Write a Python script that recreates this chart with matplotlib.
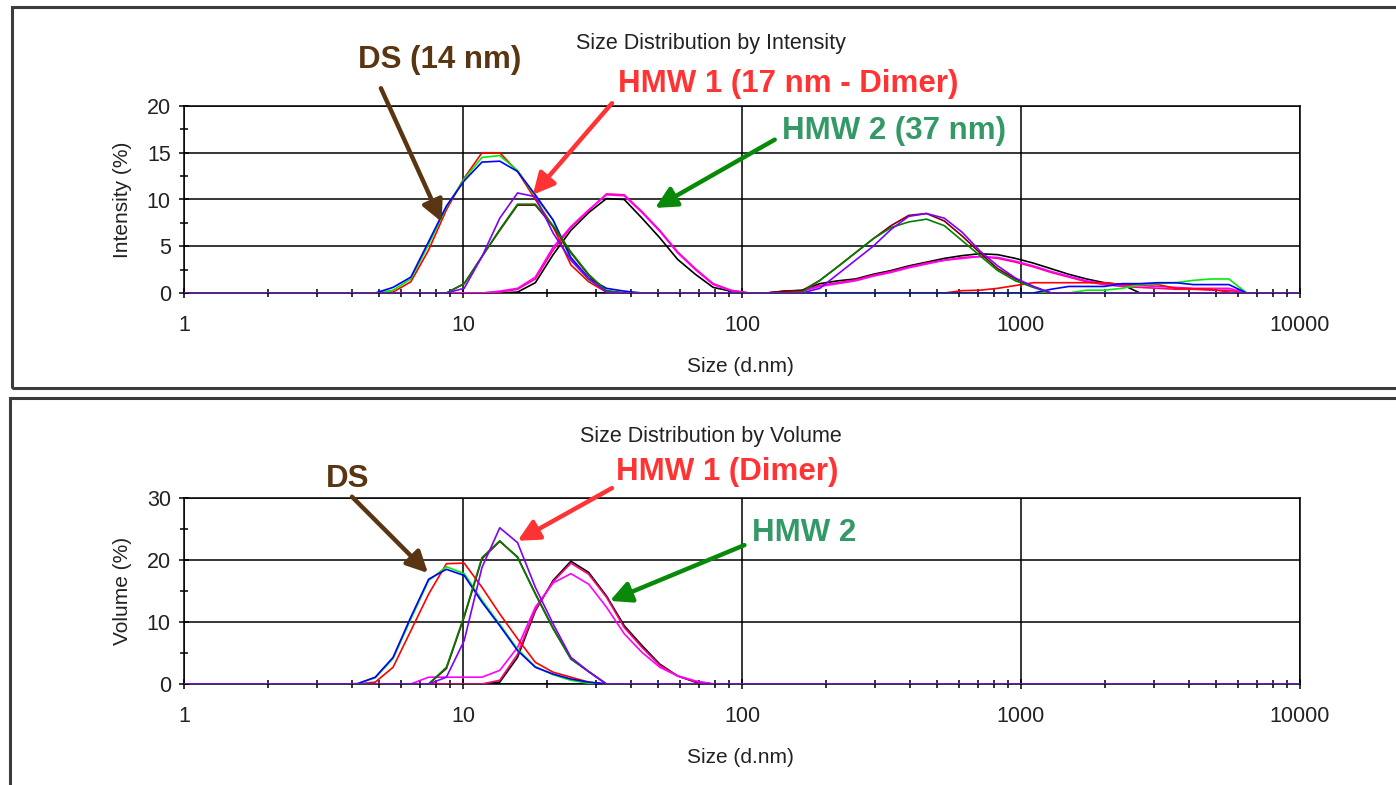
import numpy as np
import matplotlib
matplotlib.use("Agg")
import matplotlib.pyplot as plt
from matplotlib.patches import Rectangle
from matplotlib.ticker import LogLocator, MultipleLocator, NullFormatter, FixedLocator

plt.rcParams['font.family'] = ['Liberation Sans', 'DejaVu Sans']

# Zetasizer size classes (d.nm), 70 log-spaced bins
sizes = np.logspace(np.log10(0.4), 4, 70)

def curve(*segments):
    # segments: (first bin index)
    y = np.zeros(len(sizes))
    for start, vals in segments:
        y[start:start + len(vals)] = vals
    return y

# ---- Size distribution by intensity (%) ----
int_red = curve((18, [0.1, 1.2, 4.6, 8.9, 12.3, 15.0, 15.0, 13.0, 10.0, 7.1, 3.0, 1.2, 0.1]),
                (50, [0.25, 0.3, 0.5, 0.8, 1.1, 1.1, 1.1, 1.1, 1.1, 0.9, 0.9, 0.9, 0.5, 0.45, 0.4, 0.1]))
int_green = curve((18, [0.3, 1.5, 5.2, 9.2, 12.2, 14.5, 14.7, 13.1, 10.3, 7.8, 3.6, 1.4, 0.3]),
                  (57, [0.3, 0.3, 0.5, 0.9, 1.0, 1.1, 1.35, 1.5, 1.5]))
int_blue = curve((18, [0.6, 1.7, 5.5, 9.3, 12.0, 14.0, 14.1, 13.0, 10.5, 7.8, 3.8, 1.6, 0.5, 0.2]),
                 (55, [0.4, 0.7, 0.7, 0.7, 1.0, 1.0, 1.1, 1.1, 0.9, 0.9, 0.9]))
int_darkred = curve((22, [1.0, 3.9, 6.7, 9.4, 9.4, 7.1, 4.3, 1.9, 0.2]),
                    (40, [0.2, 0.25, 1.35, 2.8, 4.3, 5.8, 7.2, 8.3, 8.5, 7.7, 6.1, 4.3, 2.6, 1.5, 0.7]))
int_darkgreen = curve((22, [1.0, 3.9, 6.8, 9.5, 9.5, 7.2, 4.4, 2.0, 0.2]),
                      (41, [0.1, 1.35, 2.8, 4.3, 5.8, 7.0, 7.6, 7.9, 7.2, 5.6, 4.0, 2.4, 1.3, 0.6]))
int_purple = curve((22, [0.5, 3.9, 8.0, 10.7, 10.3, 6.4, 3.5, 1.5, 0.1]),
                   (42, [0.5, 2.0, 3.5, 5.0, 6.8, 8.2, 8.5, 8.0, 6.5, 4.5, 2.9, 1.6, 0.7]))
int_black = curve((25, [0.1, 1.1, 4.1, 6.7, 8.6, 10.1, 10.0, 8.0, 5.9, 3.6, 2.0, 0.6, 0.2]),
                  (40, [0.2, 0.3, 1.0, 1.3, 1.5, 2.0, 2.4, 2.9, 3.3, 3.7, 4.0, 4.2, 4.1, 3.7,
                        3.2, 2.6, 2.0, 1.5, 1.1, 0.9]))
int_pink = curve((24, [0.1, 0.4, 1.5, 4.6, 7.0, 8.8, 10.6, 10.5, 8.7, 6.7, 4.4, 2.6, 1.0, 0.3]),
                 (40, [0.1, 0.2, 0.8, 1.1, 1.4, 1.9, 2.3, 2.8, 3.2, 3.5, 3.8, 3.9, 3.7, 3.3, 2.8,
                       2.2, 1.7, 1.2, 0.9, 0.7, 0.6, 0.5, 0.4, 0.4, 0.3, 0.3]))
int_magenta = curve((24, [0.2, 0.5, 1.7, 4.9, 7.1, 8.9, 10.5, 10.4, 8.6, 6.6, 4.3, 2.5, 0.9, 0.25]),
                    (40, [0.1, 0.2, 0.7, 1.0, 1.3, 1.8, 2.2, 2.7, 3.1, 3.5, 3.7, 3.9, 3.8, 3.4, 2.9,
                          2.3, 1.8, 1.3, 1.0, 0.8, 0.8, 0.7, 0.6, 0.5, 0.5, 0.5]))

# ---- Size distribution by volume (%) ----
vol_red = curve((17, [0.3, 2.7, 8.6, 14.5, 19.4, 19.5, 15.6, 11.3, 7.3, 3.5, 1.9, 1.1, 0.3]))
vol_green = curve((16, [0.05, 1.0, 4.1, 10.5, 16.7, 18.9, 17.8, 13.5, 9.6, 5.6, 2.8, 1.5, 0.6, 0.1]))
vol_blue = curve((16, [0.05, 1.1, 4.3, 10.8, 16.9, 18.5, 17.5, 13.2, 9.4, 5.4, 2.7, 1.6, 0.8, 0.3]))
vol_darkred = curve((21, [2.5, 10.8, 20.2, 23.0, 20.5, 14.6, 9.0, 4.1, 2.0]))
vol_darkgreen = curve((21, [2.7, 11.0, 20.4, 23.1, 20.4, 14.5, 8.9, 4.0, 2.0]))
vol_purple = curve((21, [1.1, 7.0, 18.8, 25.2, 22.8, 15.6, 9.7, 4.3, 2.0]))
vol_black = curve((24, [0.3, 4.3, 11.8, 16.7, 19.8, 18.0, 14.2, 9.4, 6.2, 3.2, 1.3, 0.3]))
vol_pink = curve((24, [0.6, 4.8, 12.0, 16.5, 19.5, 17.7, 14.0, 9.1, 5.9, 3.0, 1.3, 0.4]))
vol_magenta = curve((20, [1.1, 1.1, 1.1, 1.1, 2.2, 5.9, 12.4, 16.3, 17.8, 16.1, 12.4, 8.1, 5.1,
                          2.7, 1.3, 0.5]))

colors = ['#000000', '#ff0080', '#ff00ff', '#ff0000', '#00ee00', '#0000ff',
          '#800000', '#008000', '#8000ff']
int_series = [int_black, int_pink, int_magenta, int_red, int_green, int_blue,
              int_darkred, int_darkgreen, int_purple]
vol_series = [vol_black, vol_pink, vol_magenta, vol_red, vol_green, vol_blue,
              vol_darkred, vol_darkgreen, vol_purple]

brown = '#5a3511'
red_txt = '#ff3333'
green_txt = '#339966'
green_arrow = '#088a08'

fig = plt.figure(figsize=(13.96, 7.85), dpi=100)

# panel frames
fig.patches.append(Rectangle((12 / 1396, 1 - 388 / 785), 1.0, 381 / 785, transform=fig.transFigure,
                             fill=False, edgecolor='#3c3c3c', linewidth=2.2))
fig.patches.append(Rectangle((10 / 1396, -0.05), 1.0, 0.05 + 1 - 398 / 785, transform=fig.transFigure,
                             fill=False, edgecolor='#3c3c3c', linewidth=2.2))

ax1 = fig.add_axes([184 / 1396, 1 - 293 / 785, 1116 / 1396, 187 / 785])
ax2 = fig.add_axes([184 / 1396, 1 - 684 / 785, 1116 / 1396, 186 / 785])


def style(ax, series_list, ymax, ystep, title, ylabel):
    for series, c in zip(series_list, colors):
        ax.plot(sizes, series, color=c, lw=1.2, zorder=3)
    ax.set_xscale('log')
    ax.set_xlim(1, 10000)
    ax.set_ylim(0, ymax)
    ax.xaxis.set_major_locator(FixedLocator([1, 10, 100, 1000, 10000]))
    ax.set_xticklabels(['1', '10', '100', '1000', '10000'])
    ax.xaxis.set_minor_locator(LogLocator(base=10, subs=np.arange(2, 10)))
    ax.xaxis.set_minor_formatter(NullFormatter())
    ax.yaxis.set_major_locator(MultipleLocator(ystep))
    ax.yaxis.set_minor_locator(MultipleLocator(ystep / 2))
    ax.grid(True, which='major', color='black', lw=1.1, zorder=1)
    for s in ax.spines.values():
        s.set_linewidth(1.1)
    ax.tick_params(which='both', direction='inout', width=1.1, labelsize=15.5, colors='black')
    ax.tick_params(which='major', length=7)
    ax.tick_params(which='minor', length=6)
    ax.tick_params(axis='x', which='major', pad=12, labelcolor='#222222')
    ax.tick_params(axis='y', which='major', pad=6, labelcolor='#222222')
    ax.text(0.472, 1.333, title, transform=ax.transAxes, ha='center', va='center',
            fontsize=15.5, color='#222222')
    ax.set_ylabel(ylabel, fontsize=15, color='#222222')
    ax.yaxis.set_label_coords(-0.047, 0.5)
    ax.set_xlabel('Size (d.nm)', fontsize=15, color='#222222')
    ax.xaxis.set_label_coords(0.499, -0.343)


style(ax1, int_series, 20, 5, 'Size Distribution by Intensity', 'Intensity (%)')
style(ax2, vol_series, 30, 10, 'Size Distribution by Volume', 'Volume (%)')


def label(ax, text, color, xy_text, tail, head, arrow_color):
    ax.text(xy_text[0], xy_text[1], text, color=color, fontsize=22.5, fontweight='bold',
            ha='center', va='center', clip_on=False)
    ax.annotate('', xy=head, xytext=tail, annotation_clip=False,
                arrowprops=dict(arrowstyle='-|>', color=arrow_color, lw=3.2,
                                mutation_scale=32, shrinkA=0, shrinkB=0))


label(ax1, 'DS (14 nm)', brown, (8.27, 24.9), (5.08, 21.9), (8.39, 7.6), brown)
label(ax1, 'HMW 1 (17 nm - Dimer)', red_txt, (146, 22.35), (34.2, 20.3), (17.8, 10.5), red_txt)
label(ax1, 'HMW 2 (37 nm)', green_txt, (351, 17.3), (131, 16.4), (48.8, 9.1), green_arrow)

label(ax2, 'DS', brown, (3.87, 33.1), (4.0, 30.2), (7.49, 17.9), brown)
label(ax2, 'HMW 1 (Dimer)', red_txt, (88.3, 34.2), (34.2, 31.6), (15.7, 23.1), red_txt)
label(ax2, 'HMW 2', green_txt, (167, 24.4), (102, 22.4), (33.6, 13.4), green_arrow)

fig.savefig('out.png', dpi=100)
